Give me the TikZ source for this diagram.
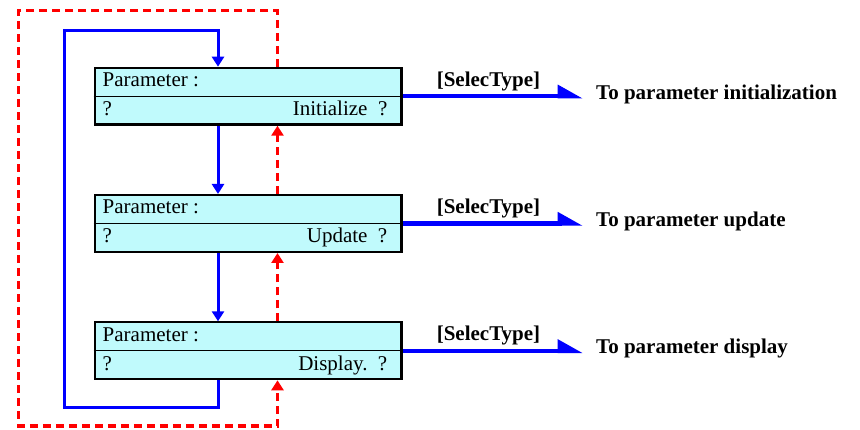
\documentclass[tikz,border=0pt]{standalone}
\usepackage{fontspec}
\setmainfont{Liberation Serif}
\usetikzlibrary{arrows.meta}
\definecolor{boxcyan}{RGB}{192,250,252}

\begin{document}
\begin{tikzpicture}[x=1pt, y=-1pt,
    param/.style={draw, line width=2.2pt, fill=boxcyan, minimum width=306.8pt, minimum height=56.8pt, inner sep=0pt},
    txt/.style={inner sep=0pt, font=\fontsize{21}{25}\selectfont},
    bold/.style={inner sep=0pt, font=\fontsize{21}{25}\selectfont\bfseries},
    flow/.style={draw=blue, line width=3pt, -{Triangle[length=10pt, width=12pt]}},
    back/.style={draw=red, line width=3pt, dash pattern=on 8pt off 5pt, -{Triangle[length=10pt, width=12pt]}},
    select/.style={draw=blue, line width=4.5pt, -{Triangle[harpoon, length=21pt, width=22pt]}, shorten >=13pt}
]
    \useasboundingbox (0,0) rectangle (860,430);

    % the three parameter boxes
    \node[param] (p1) at (248,96.2) {};
    \node[param] (p2) at (248,223.5) {};
    \node[param] (p3) at (248,350.8) {};
    \draw[line width=1.2pt] (p1.west) -- (p1.east);
    \draw[line width=1.2pt] (p2.west) -- (p2.east);
    \draw[line width=1.2pt] (p3.west) -- (p3.east);

    \node[txt, anchor=base west] (p1a) at ([xshift=9pt, yshift=-20pt]p1.north west) {Parameter :};
    \node[txt, anchor=base west] (p1b) at ([xshift=9pt, yshift=-49pt]p1.north west) {?};
    \node[txt, anchor=base east] (p1c) at ([xshift=-15pt, yshift=-49pt]p1.north east) {Initialize\ \ ?};
    \node[txt, anchor=base west] (p2a) at ([xshift=9pt, yshift=-20pt]p2.north west) {Parameter :};
    \node[txt, anchor=base west] (p2b) at ([xshift=9pt, yshift=-49pt]p2.north west) {?};
    \node[txt, anchor=base east] (p2c) at ([xshift=-15pt, yshift=-49pt]p2.north east) {Update\ \ ?};
    \node[txt, anchor=base west] (p3a) at ([xshift=9pt, yshift=-20pt]p3.north west) {Parameter :};
    \node[txt, anchor=base west] (p3b) at ([xshift=9pt, yshift=-49pt]p3.north west) {?};
    \node[txt, anchor=base east] (p3c) at ([xshift=-15pt, yshift=-49pt]p3.north east) {Display.\ \ ?};

    % targets
    \node[bold, anchor=base west] (t1) at (596,100) {To parameter initialization};
    \node[bold, anchor=base west] (t2) at (596,227) {To parameter update};
    \node[bold, anchor=base west] (t3) at (596,354) {To parameter display};
    \node[bold, anchor=base] (s1) at ([xshift=86pt, yshift=10pt]p1.east) {[SelecType]};
    \node[bold, anchor=base] (s2) at ([xshift=86pt, yshift=10pt]p2.east) {[SelecType]};
    \node[bold, anchor=base] (s3) at ([xshift=86pt, yshift=10pt]p3.east) {[SelecType]};

    \draw[select] (p1.east) -- (p1.east -| t1.west);
    \draw[select] (p2.east) -- (p2.east -| t2.west);
    \draw[select] (p3.east) -- (p3.east -| t3.west);

    % forward loop
    \coordinate (loopbl) at (64,408);
    \coordinate (looptl) at (64,31);
    \draw[flow] ([xshift=-30pt]p1.south) -- ([xshift=-30pt]p2.north);
    \draw[flow] ([xshift=-30pt]p2.south) -- ([xshift=-30pt]p3.north);
    \draw[flow] ([xshift=-30pt]p3.south) |- (loopbl) -- (looptl) -| ([xshift=-30pt]p1.north);

    % backward loop
    \coordinate (backtl) at (18.5,11);
    \coordinate (backbl) at (18.5,426);
    \draw[back] ([xshift=29.5pt]p2.north) -- ([xshift=29.5pt]p1.south);
    \draw[back] ([xshift=29.5pt]p3.north) -- ([xshift=29.5pt]p2.south);
    \draw[back] ([xshift=29.5pt]p1.north) |- (backtl) -- (backbl) -| ([xshift=29.5pt]p3.south);
\end{tikzpicture}
\end{document}
